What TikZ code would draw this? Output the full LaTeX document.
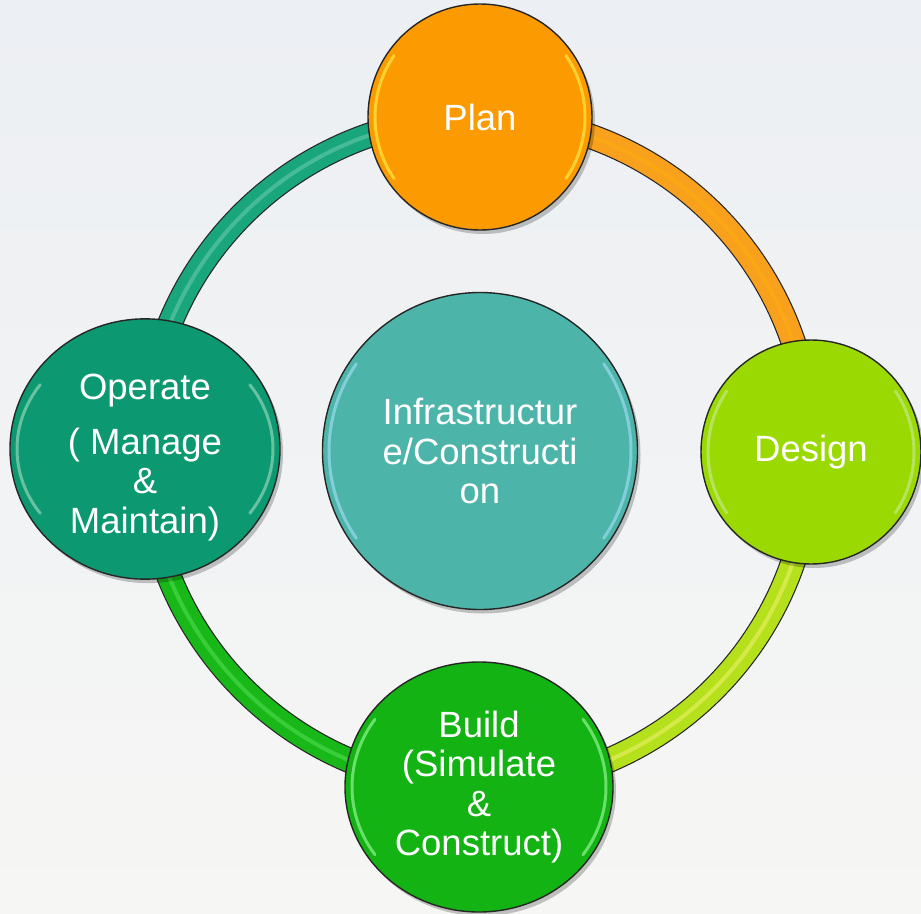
\documentclass[tikz,border=0pt]{standalone}
\usepackage{fontspec}
\setmainfont{Liberation Sans}
\usetikzlibrary{shapes.geometric,shadows}
\pgfdeclarelayer{back}
\pgfdeclarelayer{tubes}
\pgfsetlayers{back,tubes,main}
\definecolor{bgA}{HTML}{ECEFF3}
\definecolor{bgB}{HTML}{F6F6F4}
\definecolor{planC}{HTML}{FC9A02}
\definecolor{designC}{HTML}{9ADA02}
\definecolor{buildC}{HTML}{12B312}
\definecolor{operC}{HTML}{0C9871}
\definecolor{coreC}{HTML}{4DB4AA}
\definecolor{arcO}{HTML}{F9A11C}
\definecolor{arcY}{HTML}{B4E01C}
\definecolor{arcG}{HTML}{17B817}
\definecolor{arcT}{HTML}{19A67C}
\newcommand\glossrim[4]{%
  \draw[gloss,color=#2,shift={(#1)}] plot[domain=145:215,samples=30,smooth] ({#3*cos(\x)},{#4*sin(\x)});
  \draw[gloss,color=#2,shift={(#1)}] plot[domain=-35:35,samples=30,smooth] ({#3*cos(\x)},{#4*sin(\x)});}
\begin{document}
\begin{tikzpicture}[x=1pt,y=-1pt,
  lbl/.style={font=\fontsize{36.5}{39.5}\selectfont, text=white, align=center},
  bubble/.style={ellipse, draw=black!85, line width=1.4pt, inner sep=0pt, lbl,
     drop shadow={shadow xshift=3pt,shadow yshift=-4pt,opacity=0.22,fill=black}},
  tube/.style={draw=black!85, line width=1.2pt, double distance=23pt},
  shine/.style={line width=4pt, opacity=0.45},
  gloss/.style={line width=3pt, opacity=0.6, line cap=round}
]
\begin{pgfonlayer}{back}
\shade[top color=bgA, bottom color=bgB] (0,0) rectangle (921,913);
\end{pgfonlayer}
\useasboundingbox (0,0) rectangle (921,913);

% nodes
\node[bubble, fill=planC, minimum width=224pt, minimum height=226pt] (plan) at (480,117) {Plan};
\node[bubble, fill=designC, minimum width=220pt, minimum height=224pt] (design) at (811,452) {Design};
\node[bubble, fill=buildC, minimum width=268pt, minimum height=250pt] (build) at (479,787) {Build\\(Simulate\\\&\\Construct)};
\node[bubble, fill=operC, minimum width=270pt, minimum height=238pt] (operate) at (145,449) {\rule{0pt}{43pt}Operate\\[15pt]( Manage\\\&\\Maintain)};
\node[bubble, fill=coreC, minimum width=315pt, minimum height=317pt] (core) at (480,451) {Infrastructur\\e/Constructi\\on};

% glossy inner rims
\glossrim{plan.center}{yellow!70!white}{105}{107}
\glossrim{design.center}{yellow!50!green!40!white}{103}{106}
\glossrim{build.center}{green!35!white}{127}{118}
\glossrim{operate.center}{cyan!25!green!35!white}{128}{112}
\glossrim{core.center}{cyan!35!white}{151}{152}

% ring tubes
\begin{pgfonlayer}{tubes}
\draw[tube, double=arcO] (plan.center) to[bend left=45] (design.center);
\draw[tube, double=arcY] (design.center) to[bend left=45] (build.center);
\draw[tube, double=arcG] (build.center) to[bend left=45] (operate.center);
\draw[tube, double=arcT] (operate.center) to[bend left=45] (plan.center);
\draw[shine, color=orange!50!yellow, opacity=0.25] (plan.center) to[bend left=45] (design.center);
\draw[shine, color=yellow!50!white] (design.center) to[bend left=45] (build.center);
\draw[shine, color=green!45!white, opacity=0.3] (build.center) to[bend left=45] (operate.center);
\draw[shine, color=cyan!40!green!50!white] (operate.center) to[bend left=45] (plan.center);
\end{pgfonlayer}
\end{tikzpicture}
\end{document}
